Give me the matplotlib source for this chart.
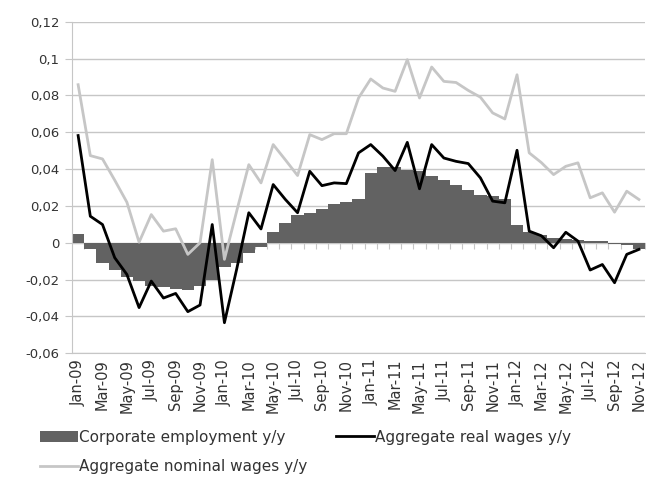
import matplotlib
matplotlib.use("Agg")
import matplotlib.pyplot as plt
from matplotlib.ticker import FuncFormatter

# monthly y/y changes, Jan-09 .. Nov-12
months = ["Jan-09", "Feb-09", "Mar-09", "Apr-09", "May-09", "Jun-09", "Jul-09", "Aug-09",
          "Sep-09", "Oct-09", "Nov-09", "Dec-09",
          "Jan-10", "Feb-10", "Mar-10", "Apr-10", "May-10", "Jun-10", "Jul-10", "Aug-10",
          "Sep-10", "Oct-10", "Nov-10", "Dec-10",
          "Jan-11", "Feb-11", "Mar-11", "Apr-11", "May-11", "Jun-11", "Jul-11", "Aug-11",
          "Sep-11", "Oct-11", "Nov-11", "Dec-11",
          "Jan-12", "Feb-12", "Mar-12", "Apr-12", "May-12", "Jun-12", "Jul-12", "Aug-12",
          "Sep-12", "Oct-12", "Nov-12"]

employment = [0.005, -0.0033, -0.0112, -0.0148, -0.0184, -0.0205, -0.0235, -0.0238,
              -0.025, -0.0255, -0.0235, -0.020,
              -0.013, -0.011, -0.0054, -0.0022, 0.0058, 0.011, 0.015, 0.0163,
              0.0186, 0.0208, 0.022, 0.0236,
              0.0376, 0.0412, 0.0412, 0.0394, 0.0388, 0.0365, 0.034, 0.0316,
              0.0285, 0.0262, 0.0253, 0.0238,
              0.0099, 0.0058, 0.0042, 0.0027, 0.0022, 0.0014, 0.0012, 0.0008,
              -0.0005, -0.001, -0.0034]

real_wages = [0.0582, 0.0144, 0.0099, -0.0081, -0.0172, -0.0352, -0.0208, -0.030,
              -0.0275, -0.0374, -0.0338, 0.0099,
              -0.0434, -0.0145, 0.0163, 0.0075, 0.0316, 0.0235, 0.0163, 0.0388,
              0.031, 0.0325, 0.0321, 0.0488,
              0.0533, 0.047, 0.0392, 0.0545, 0.0293, 0.0533, 0.046, 0.0442,
              0.043, 0.0352, 0.0226, 0.0217,
              0.0502, 0.0063, 0.0038, -0.0027, 0.0057, 0.0009, -0.0148, -0.0118,
              -0.0217, -0.0063, -0.0036]

nominal_wages = [0.0858, 0.0473, 0.0455, 0.034, 0.022, 0.0003, 0.0153, 0.0063,
                 0.0076, -0.0063, 0.0, 0.0451,
                 -0.009, 0.017, 0.0424, 0.0325, 0.0533, 0.045, 0.0365, 0.0587,
                 0.056, 0.0592, 0.0592, 0.0786,
                 0.0889, 0.084, 0.0822, 0.0994, 0.0786, 0.0954, 0.0876, 0.087,
                 0.0827, 0.079, 0.0705, 0.0672,
                 0.0912, 0.0488, 0.0435, 0.037, 0.0415, 0.0434, 0.0244, 0.0271,
                 0.0166, 0.028, 0.0235]

x = list(range(len(months)))
GRID = "#c6c6c6"

fig = plt.figure(figsize=(6.46, 5.0), dpi=100)
ax = fig.add_axes([0.1115, 0.2934, 0.887, 0.6632])

ax.bar(x, employment, width=1.0, color="#626262", label="Corporate employment y/y", zorder=2)
real, = ax.plot(x, real_wages, color="black", lw=2.0, label="Aggregate real wages y/y", zorder=4)
nom, = ax.plot(x, nominal_wages, color="#c6c6c6", lw=2.0, label="Aggregate nominal wages y/y", zorder=3)

ax.set_xlim(-0.5, len(months) - 0.5)
ax.set_ylim(-0.06, 0.12)
ax.set_yticks([-0.06 + 0.02 * k for k in range(10)])
ax.yaxis.set_major_formatter(FuncFormatter(lambda v, _: ("%g" % round(v, 2)).replace(".", ",")))
ax.grid(axis="y", color=GRID, lw=1.0, zorder=0)
ax.set_axisbelow(True)

for s in ("top", "right"):
    ax.spines[s].set_visible(False)
for s in ("left", "bottom"):
    ax.spines[s].set_color(GRID)
ax.tick_params(axis="y", colors=GRID, length=5, labelcolor="#333333", labelsize=9.5, pad=4)

ax.set_xticks(x[::2])
ax.set_xticklabels(months[::2], rotation=90, fontsize=10.5, color="#333333")
ax.tick_params(axis="x", length=0, pad=4)

# category boundary ticks on the zero line
zero = ax.secondary_xaxis(1 / 3)
zero.set_xticks([i - 0.5 for i in range(1, len(months) + 1)])
zero.set_xticklabels([])
zero.tick_params(axis="x", direction="out", length=4, colors=GRID)
zero.spines["bottom"].set_color(GRID)

bars = ax.containers[0]
fig.legend([bars, nom, real],
           ["Corporate employment y/y", "Aggregate nominal wages y/y", "Aggregate real wages y/y"],
           ncol=2, loc="upper left", bbox_to_anchor=(0.04, 0.168), frameon=False,
           fontsize=11, handlelength=2.5, handletextpad=0.05, columnspacing=1.9,
           labelspacing=0.95, labelcolor="#333333")

fig.savefig("out.png", dpi=100)
